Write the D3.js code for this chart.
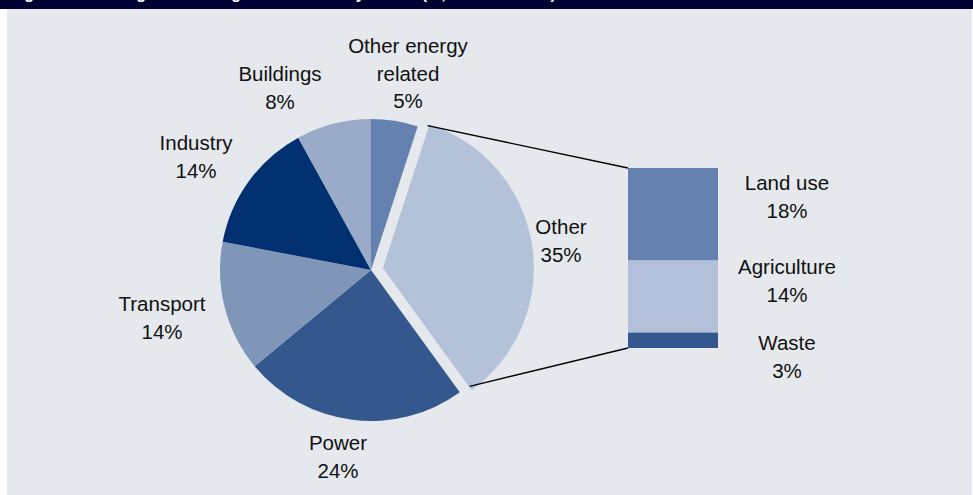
<!DOCTYPE html>
<html>
<head>
<meta charset="utf-8">
<script src="https://cdn.jsdelivr.net/npm/d3@7"></script>
<style>
  html, body { margin: 0; padding: 0; background: #ffffff; }
  svg { display: block; }
  text { font-family: Arial, "Liberation Sans", sans-serif; fill: #111; }
</style>
</head>
<body>
<svg id="chart" width="973" height="495"></svg>
<script>
// Emission shares by sector (%), clockwise from 12 o'clock
const sectors = ["Other energy related", "Other", "Power", "Transport", "Industry", "Buildings"];
const shares = [5, 35, 24, 14, 14, 8];
const sectorColors = ["#6481b0", "#b3c1d9", "#34578e", "#7f96b8", "#003070", "#99abc8"];

// Breakdown of "Other" (%)
const otherParts = ["Land use", "Agriculture", "Waste"];
const otherShares = [18, 14, 3];
const otherColors = ["#6481b0", "#b3c0d9", "#34578e"];

const titleText = "Figure 1: Global greenhouse gas emissions by sector (%, share of total)";

// Label placement for the pie (centre x, first baseline y)
const pieLabelPos = {
  "Other energy related": [408, 53],
  "Other": [561, 234],
  "Power": [338, 450],
  "Transport": [162, 311],
  "Industry": [196, 150],
  "Buildings": [280, 81]
};
const pieLabelLines = {
  "Other energy related": ["Other energy", "related"]
};

const svg = d3.select("#chart");
const W = 973, H = 495;
const fontSize = "20.5px";

// panel background and header strip
svg.append("rect").attr("x", 7).attr("y", 9).attr("width", W - 8).attr("height", H - 9).attr("fill", "#e5e8ed");
svg.append("rect").attr("x", 0).attr("y", 0).attr("width", W).attr("height", 9).attr("fill", "#000033");
svg.append("text").attr("x", 10).attr("y", -1)
  .style("font-weight", "bold").style("font-size", "16px").style("fill", "#ffffff")
  .text(titleText);

const cx = 371, cy = 270, R = 151, explode = 12;
const lineH = 27.5;

const data = sectors.map((s, i) => ({ name: s, value: shares[i], color: sectorColors[i] }));
const pie = d3.pie().value(d => d.value).sort(null).startAngle(0).endAngle(2 * Math.PI);
const arcs = pie(data);
const arcGen = d3.arc().innerRadius(0).outerRadius(R);

const g = svg.append("g").attr("transform", `translate(${cx},${cy})`);

function offsetOf(a) {
  if (a.data.name !== "Other") return [0, 0];
  const mid = (a.startAngle + a.endAngle) / 2;
  return [explode * Math.sin(mid), -explode * Math.cos(mid)];
}

g.selectAll("path.slice").data(arcs).enter().append("path")
  .attr("class", "slice")
  .attr("d", arcGen)
  .attr("fill", d => d.data.color)
  .attr("transform", d => { const o = offsetOf(d); return `translate(${o[0]},${o[1]})`; });

// pie labels
arcs.forEach(a => {
  const name = a.data.name;
  const pos = pieLabelPos[name];
  const lines = (pieLabelLines[name] || [name]).concat([a.data.value + "%"]);
  const t = svg.append("text").attr("text-anchor", "middle").style("font-size", fontSize);
  lines.forEach((ln, k) => {
    t.append("tspan").attr("x", pos[0]).attr("y", pos[1] + k * lineH).text(ln);
  });
});

// stacked bar breaking down "Other"
const barX0 = 628, barX1 = 718, barTop = 168, barBottom = 348;
const total = d3.sum(otherShares);
const yScale = d3.scaleLinear().domain([0, total]).range([barTop, barBottom]);
const stackData = [];
let acc = 0;
otherParts.forEach((p, i) => {
  stackData.push({ name: p, value: otherShares[i], y0: acc, y1: acc + otherShares[i], color: otherColors[i] });
  acc += otherShares[i];
});

svg.selectAll("rect.seg").data(stackData).enter().append("rect")
  .attr("class", "seg")
  .attr("x", barX0)
  .attr("width", barX1 - barX0)
  .attr("y", d => yScale(d.y0))
  .attr("height", d => yScale(d.y1) - yScale(d.y0))
  .attr("fill", d => d.color);

// connector lines from the exploded slice to the bar
const other = arcs.find(a => a.data.name === "Other");
const off = offsetOf(other);
const p1 = [cx + off[0] + R * Math.sin(other.startAngle), cy + off[1] - R * Math.cos(other.startAngle)];
const p2 = [cx + off[0] + R * Math.sin(other.endAngle), cy + off[1] - R * Math.cos(other.endAngle)];
svg.append("line").attr("x1", p1[0] - 2).attr("y1", p1[1] + 1).attr("x2", barX0).attr("y2", yScale(0))
  .attr("stroke", "#000").attr("stroke-width", 1.3);
svg.append("line").attr("x1", p2[0] - 2).attr("y1", p2[1] - 4).attr("x2", barX0).attr("y2", yScale(total))
  .attr("stroke", "#000").attr("stroke-width", 1.3);

// bar labels
const barLabelBase = [190, 274, 350];
stackData.forEach((d, i) => {
  const t = svg.append("text").attr("text-anchor", "middle").style("font-size", fontSize);
  t.append("tspan").attr("x", 787).attr("y", barLabelBase[i]).text(d.name);
  t.append("tspan").attr("x", 787).attr("y", barLabelBase[i] + lineH).text(d.value + "%");
});
</script>
</body>
</html>
